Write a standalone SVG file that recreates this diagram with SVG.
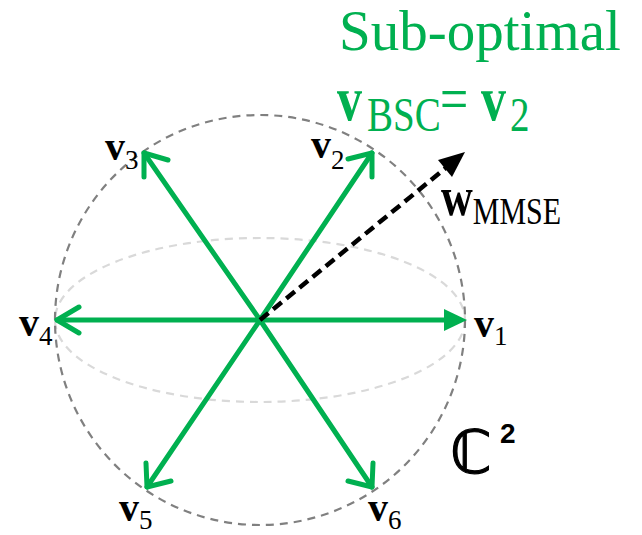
<svg xmlns="http://www.w3.org/2000/svg" width="642" height="535" viewBox="0 0 642 535">
<style>
.g{stroke:#00b050;stroke-width:5;fill:none;stroke-linecap:round;stroke-linejoin:round}
.t{font-family:"Liberation Serif","Times New Roman",serif;fill:#000}
.b{font-weight:bold}
.gt{fill:#00b050}
</style>
<rect width="642" height="535" fill="#fff"/>
<g id="sphere">
<ellipse cx="260" cy="320" rx="205" ry="82" fill="none" stroke="#d9d9d9" stroke-width="2.2" stroke-dasharray="8,6"/>
<circle cx="260" cy="320" r="205" fill="none" stroke="#808080" stroke-width="2.2" stroke-dasharray="8,6"/>
</g>
<g id="connectors">
<g id="e-v1"><line class="g" x1="260" y1="320" x2="450" y2="320"/><path d="M444,309 L467,320 L444,331 z" fill="#00b050"/></g>
<g id="e-v4"><line class="g" x1="260" y1="320" x2="57" y2="320"/><polyline class="g" points="79,307 57,320 79,333"/></g>
<g id="e-v2"><line class="g" x1="260" y1="320" x2="372" y2="153"/><polyline class="g" points="348,159 372,153 372,177"/></g>
<g id="e-v3"><line class="g" x1="260" y1="320" x2="144" y2="153"/><polyline class="g" points="144,177 144,153 168,160"/></g>
<g id="e-v5"><line class="g" x1="260" y1="320" x2="147" y2="487"/><polyline class="g" points="146,463 147,487 171,481"/></g>
<g id="e-v6"><line class="g" x1="260" y1="320" x2="372" y2="487"/><polyline class="g" points="348,481 372,487 373,463"/></g>
<g id="e-w"><line x1="260" y1="320" x2="447" y2="167" stroke="#000" stroke-width="4.5" stroke-dasharray="11,6"/><path d="M465,152 L452,177 L438,160 z" fill="#000"/></g>
</g>
<g id="title">
<text class="t gt" x="339" y="50" font-size="57">Sub-optimal</text>
<g transform="translate(0,120) scale(1,1.25)">
<text class="t gt" y="0" font-size="50"><tspan class="b" x="337">v</tspan><tspan x="367" dy="9" font-size="39">BSC</tspan><tspan x="440" dy="-9">=</tspan><tspan class="b" x="481">v</tspan><tspan x="510" dy="9" font-size="39">2</tspan></text>
</g>
</g>
<g id="n-v3"><text class="t" x="105" y="160" font-size="40"><tspan class="b">v</tspan><tspan font-size="27" dy="9">3</tspan></text></g>
<g id="n-v2"><text class="t" x="311" y="158" font-size="40"><tspan class="b">v</tspan><tspan font-size="27" dy="11">2</tspan></text></g>
<g id="n-w"><g transform="translate(0,215) scale(1,1.25)"><text class="t" x="441" y="0" font-size="44"><tspan class="b">w</tspan><tspan font-size="30" dy="7">MMSE</tspan></text></g></g>
<g id="n-v4"><text class="t" x="19" y="336" font-size="40"><tspan class="b">v</tspan><tspan font-size="27" dy="9">4</tspan></text></g>
<g id="n-v1"><text class="t" x="474" y="337" font-size="40"><tspan class="b">v</tspan><tspan font-size="27" dy="8">1</tspan></text></g>
<g id="n-v5"><text class="t" x="119" y="521" font-size="40"><tspan class="b">v</tspan><tspan font-size="27" dy="8">5</tspan></text></g>
<g id="n-v6"><text class="t" x="368" y="521" font-size="40"><tspan class="b">v</tspan><tspan font-size="27" dy="8">6</tspan></text></g>
<g id="n-c2">
<text x="450" y="473" font-family="'DejaVu Sans',sans-serif" font-size="60" fill="#000" stroke="#000" stroke-width="1.2">ℂ</text>
<text x="500" y="443" font-family="'Liberation Sans',Arial,sans-serif" font-weight="bold" font-size="28" fill="#000">2</text>
</g>
</svg>
